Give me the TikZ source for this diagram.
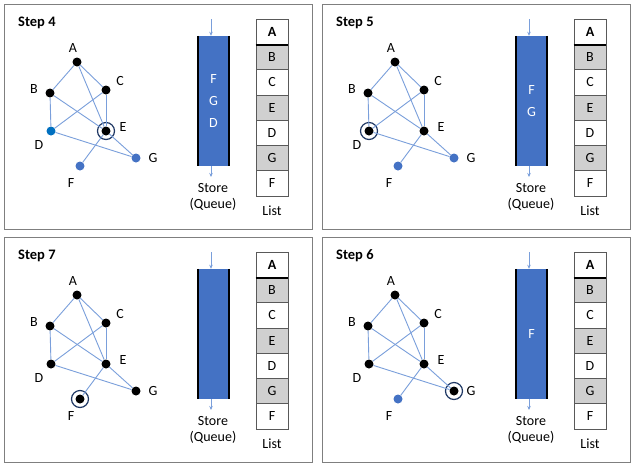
\documentclass[tikz,border=0pt]{standalone}
\usepackage{fontspec}
\setmainfont{Carlito}
\usetikzlibrary{arrows.meta}
\definecolor{edgeblue}{HTML}{7A9FDB}
\definecolor{qblue}{HTML}{4472C4}
\definecolor{dblue}{HTML}{0070C0}
\definecolor{ringblue}{HTML}{1F3864}
\definecolor{cellgrey}{HTML}{D0D0D0}
\definecolor{framegrey}{HTML}{7F7F7F}
\definecolor{cellborder}{HTML}{595959}
\tikzset{
  vtx/.style={circle, inner sep=0pt, minimum size=9pt},
  ringmark/.style={circle, draw=ringblue, line width=1.2pt, inner sep=0pt, minimum size=17pt},
  lbl/.style={font=\fontsize{14}{16}\selectfont, inner sep=0pt},
  titlelbl/.style={font=\fontsize{14.5}{16}\selectfont\bfseries, inner sep=0pt, anchor=west},
  edge/.style={draw=edgeblue, line width=0.9pt},
  arr/.style={draw=edgeblue, line width=0.9pt, -{Stealth[length=4pt,width=3.5pt]}},
  queue/.style={fill=qblue, inner sep=0pt, minimum width=31pt, minimum height=130pt,
    text=white, align=center, font=\fontsize{14}{22}\selectfont},
  cell/.style={draw=cellborder, line width=0.8pt, inner sep=0pt, minimum width=32pt,
    minimum height=25.3pt, font=\fontsize{14}{16}\selectfont},
  panelframe/.style={draw=framegrey, line width=1pt},
}
\newcommand\graphpanel[9]{%
\begin{scope}[shift={(#2,#3)}]
  \draw[panelframe] (4,4) rectangle (312,229);
  \node[titlelbl] (#1title) at (18,23) {#4};
  % vertices
  \node[vtx,fill=black] (#1A) at (77,62) {};
  \node[vtx,fill=black] (#1B) at (50,93) {};
  \node[vtx,fill=black] (#1C) at (106,90) {};
  \node[vtx,fill=#5] (#1D) at (51,131) {};
  \node[vtx,fill=black] (#1E) at (106,131) {};
  \node[vtx,fill=#6] (#1F) at (80,166) {};
  \node[vtx,fill=#7] (#1G) at (136,158) {};
  \node[ringmark] (#1ring) at (#1#8) {};
  % labels
  \node[lbl] (#1lA) at (73,48) {A};
  \node[lbl] (#1lB) at (34,89) {B};
  \node[lbl] (#1lC) at (120,81) {C};
  \node[lbl] (#1lD) at (39,145) {D};
  \node[lbl] (#1lE) at (123,127) {E};
  \node[lbl] (#1lF) at (71,183) {F};
  \node[lbl] (#1lG) at (153,158) {G};
  % edges
  \draw[edge] (#1A) -- (#1B);
  \draw[edge] (#1A) -- (#1C);
  \draw[edge] (#1A) -- (#1E);
  \draw[edge] (#1B) -- (#1E);
  \draw[edge] (#1B) -- (#1D);
  \draw[edge] (#1C) -- (#1D);
  \draw[edge] (#1C) -- (#1E);
  \draw[edge] (#1D) -- (#1G);
  \draw[edge] (#1E) -- (#1G);
  \draw[edge] (#1E) -- (#1F);
  % queue
  \node[queue] (#1Q) at (213.5,101) {#9};
  \draw[line width=2pt] (#1Q.north west) -- (#1Q.south west);
  \draw[line width=2pt] (#1Q.north east) -- (#1Q.south east);
  \coordinate (#1qin) at (211,19);
  \coordinate (#1qout) at (211,177);
  \draw[arr] (#1qin) -- (#1qin |- #1Q.north);
  \draw[arr] (#1qout |- #1Q.south) -- (#1qout);
  \node[lbl, align=center] (#1store) at (213,197) {Store\\(Queue)};
  % list
  \foreach \t/\f [count=\i] in {\textbf{A}/white,B/cellgrey,C/white,E/cellgrey,D/white,G/cellgrey,F/white}{
    \node[cell, fill=\f] (#1L\i) at (272,{19+(\i-0.5)*25.3}) {\t};
  }
  \draw[line width=1.6pt] (#1L1.south west) -- (#1L1.south east);
  \node[lbl] (#1list) at (272,211) {List};
\end{scope}
}
\begin{document}
\begin{tikzpicture}[x=1pt,y=-1pt]
  \useasboundingbox (0,0) rectangle (635,467);
  \fill[white] (0,0) rectangle (635,467);
  \graphpanel{p}{0}{0}{Step 4}{dblue}{qblue}{qblue}{E}{F\\G\\D}
  \graphpanel{q}{318}{0}{Step 5}{black}{qblue}{qblue}{D}{F\\G}
  \graphpanel{r}{0}{233}{Step 7}{black}{black}{black}{F}{}
  \graphpanel{s}{318}{233}{Step 6}{black}{qblue}{black}{G}{F}
\end{tikzpicture}
\end{document}
